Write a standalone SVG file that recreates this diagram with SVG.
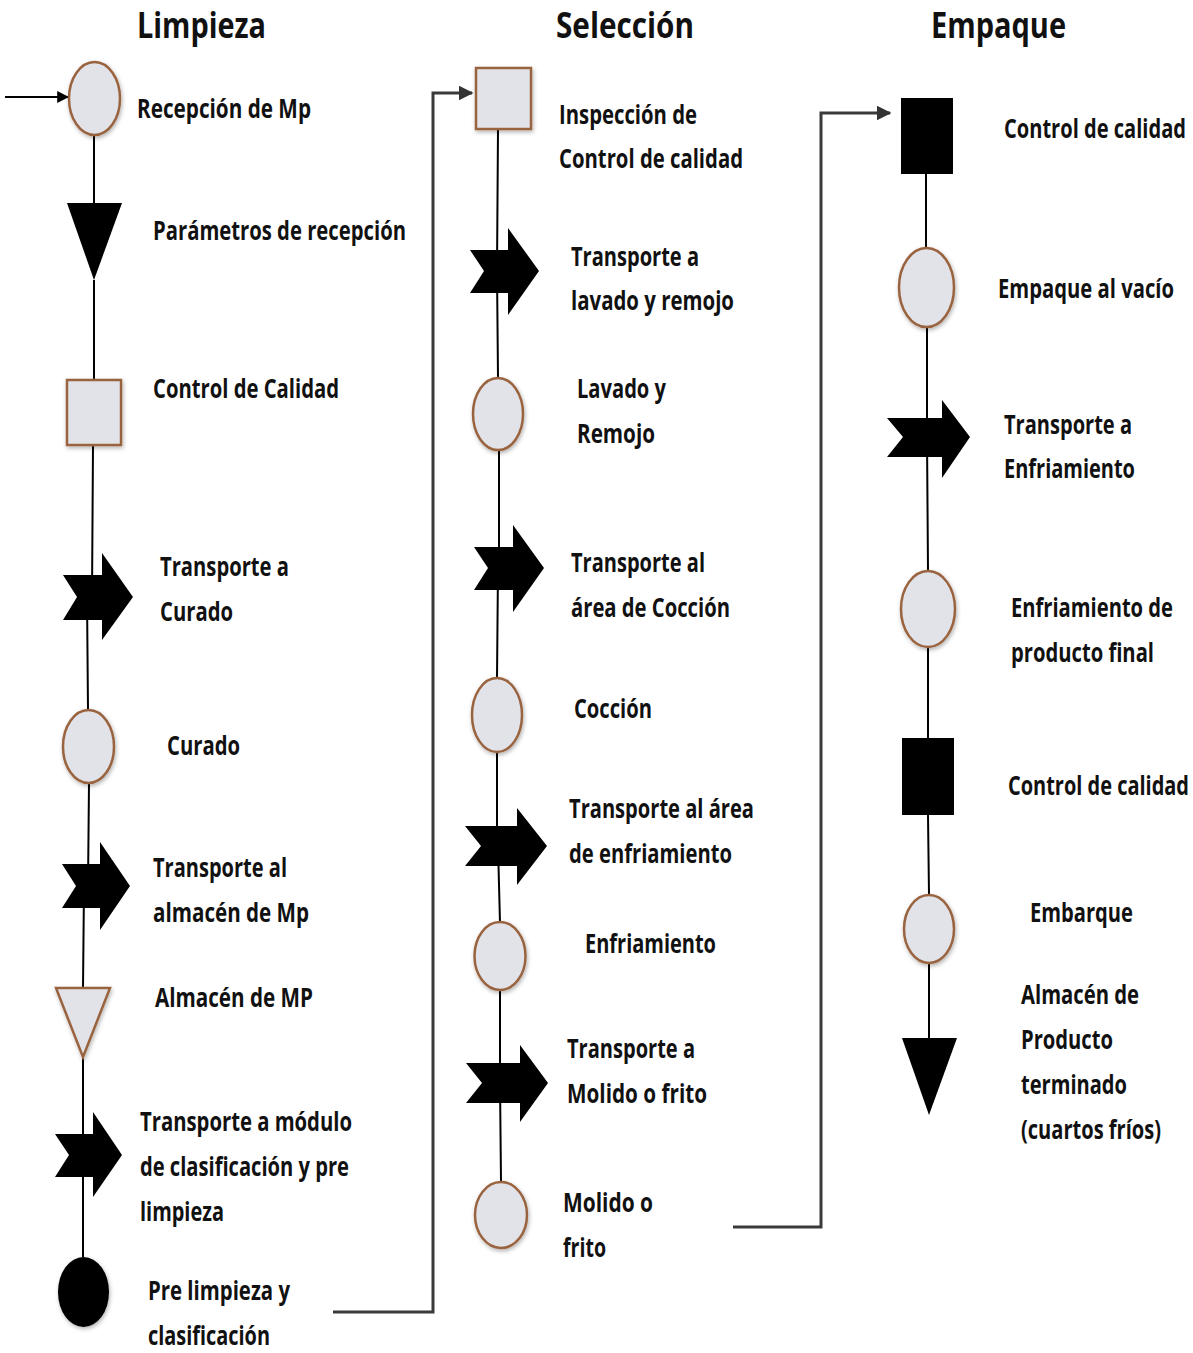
<svg xmlns="http://www.w3.org/2000/svg" width="1193" height="1353" viewBox="0 0 1193 1353">
<style>
.t{font-family:"Open Sans","Liberation Sans",sans-serif;font-weight:700;font-size:27px;fill:#111}
.h{font-family:"Open Sans","Liberation Sans",sans-serif;font-weight:700;font-size:35px;fill:#111}
.op{fill:#e2e3e9;stroke:#9a6440;stroke-width:2.5;filter:url(#sh)}
.blk{fill:#000;stroke:none}
.ln{stroke:#000;stroke-width:2;fill:none}
.lp{stroke:#3a3a3a;stroke-width:3;fill:none}
</style>
<defs>
<filter id="sh" x="-30%" y="-30%" width="160%" height="160%">
<feDropShadow dx="1" dy="2" stdDeviation="2" flood-color="#000" flood-opacity="0.3"/>
</filter>
<marker id="ah" viewBox="0 0 10 10" refX="9" refY="5" markerWidth="5" markerHeight="5" orient="auto" markerUnits="strokeWidth">
<path d="M0,0 L10,5 L0,10 z" fill="#333"/>
</marker>
<marker id="ah2" viewBox="0 0 10 10" refX="9" refY="5" markerWidth="6" markerHeight="6" orient="auto" markerUnits="strokeWidth">
<path d="M0,0 L10,5 L0,10 z" fill="#000"/>
</marker>
</defs>
<rect width="1193" height="1353" fill="#fff"/>

<g id="titles">
<text class="h" x="137" y="38" textLength="129" lengthAdjust="spacingAndGlyphs">Limpieza</text>
<text class="h" x="556" y="38" textLength="138" lengthAdjust="spacingAndGlyphs">Selección</text>
<text class="h" x="931" y="38" textLength="135" lengthAdjust="spacingAndGlyphs">Empaque</text>
</g>

<g id="connectors">
<line class="ln" x1="5" y1="97" x2="68" y2="97" marker-end="url(#ah2)"/>
<path class="ln" d="M94,135 V203 M94,280 V380 M93,445 L92,597 M87,597 L88,710 M89,783 L88,886 M84,886 L83,988 M83,1057 V1155 M83,1155 V1257"/>
<path class="ln" d="M498,129 L497,271 M497,271 L498,378 M499,450 V568 M498,568 L497,678 M497,752 V846 M498,846 L500,923 M500,990 V1083 M500,1083 L501,1182"/>
<path class="ln" d="M926,174 V248 M927,327 V437 M927,437 L928,571 M928,647 V738 M928,815 L929,895 M929,963 V1038"/>
<path class="lp" d="M333,1312 H433 V93 H472" marker-end="url(#ah)"/>
<path class="lp" d="M733,1227 H821 V113 H890" marker-end="url(#ah)"/>
</g>

<!-- Limpieza -->
<g id="n-recepcion">
<ellipse class="op" cx="94.5" cy="98.5" rx="25.5" ry="36.5"/>
<text class="t" x="137" y="118" textLength="174" lengthAdjust="spacingAndGlyphs">Recepción de Mp</text>
</g>
<g id="n-parametros">
<polygon class="blk" points="67,203 122,203 94,280"/>
<text class="t" x="153" y="240" textLength="253" lengthAdjust="spacingAndGlyphs">Parámetros de recepción</text>
</g>
<g id="n-control1">
<rect class="op" x="67" y="380" width="54" height="65"/>
<text class="t" x="153" y="398" textLength="186" lengthAdjust="spacingAndGlyphs">Control de Calidad</text>
</g>
<g id="n-trans-curado">
<path class="blk" d="M63,575 H102 V553 L133,597 L102,640 V620 H63 L77,597 Z"/>
<text class="t" x="160" y="576" textLength="129" lengthAdjust="spacingAndGlyphs">Transporte a</text>
<text class="t" x="160" y="621" textLength="73" lengthAdjust="spacingAndGlyphs">Curado</text>
</g>
<g id="n-curado">
<ellipse class="op" cx="88.5" cy="746.5" rx="25.5" ry="36.5"/>
<text class="t" x="167" y="755" textLength="73" lengthAdjust="spacingAndGlyphs">Curado</text>
</g>
<g id="n-trans-almacen">
<path class="blk" d="M62,864 H100 V842 L130,886 L100,930 V908 H62 L76,886 Z"/>
<text class="t" x="153" y="877" textLength="134" lengthAdjust="spacingAndGlyphs">Transporte al</text>
<text class="t" x="153" y="922" textLength="156" lengthAdjust="spacingAndGlyphs">almacén de Mp</text>
</g>
<g id="n-almacen">
<polygon class="op" points="56,988 110,988 83,1057"/>
<text class="t" x="155" y="1007" textLength="158" lengthAdjust="spacingAndGlyphs">Almacén de MP</text>
</g>
<g id="n-trans-modulo">
<path class="blk" d="M55,1134 H93 V1112 L122,1155 L93,1197 V1177 H55 L69,1155 Z"/>
<text class="t" x="140" y="1131" textLength="212" lengthAdjust="spacingAndGlyphs">Transporte a módulo</text>
<text class="t" x="140" y="1176" textLength="209" lengthAdjust="spacingAndGlyphs">de clasificación y pre</text>
<text class="t" x="140" y="1221" textLength="84" lengthAdjust="spacingAndGlyphs">limpieza</text>
</g>
<g id="n-prelimpieza">
<ellipse cx="83.5" cy="1292" rx="25.5" ry="35" fill="#000" filter="url(#sh)"/>
<text class="t" x="148" y="1300" textLength="142" lengthAdjust="spacingAndGlyphs">Pre limpieza y</text>
<text class="t" x="148" y="1345" textLength="122" lengthAdjust="spacingAndGlyphs">clasificación</text>
</g>

<!-- Selección -->
<g id="n-inspeccion">
<rect class="op" x="476" y="68" width="55" height="61"/>
<text class="t" x="559" y="124" textLength="138" lengthAdjust="spacingAndGlyphs">Inspección de</text>
<text class="t" x="559" y="168" textLength="184" lengthAdjust="spacingAndGlyphs">Control de calidad</text>
</g>
<g id="n-trans-lavado">
<path class="blk" d="M470,250 H508 V228 L539,271 L508,315 V293 H470 L484,271 Z"/>
<text class="t" x="571" y="266" textLength="128" lengthAdjust="spacingAndGlyphs">Transporte a</text>
<text class="t" x="571" y="310" textLength="163" lengthAdjust="spacingAndGlyphs">lavado y remojo</text>
</g>
<g id="n-lavado">
<ellipse class="op" cx="498" cy="414" rx="25" ry="36"/>
<text class="t" x="577" y="398" textLength="89" lengthAdjust="spacingAndGlyphs">Lavado y</text>
<text class="t" x="577" y="443" textLength="78" lengthAdjust="spacingAndGlyphs">Remojo</text>
</g>
<g id="n-trans-coccion">
<path class="blk" d="M474,547 H513 V525 L544,568 L513,612 V590 H474 L488,568 Z"/>
<text class="t" x="571" y="572" textLength="134" lengthAdjust="spacingAndGlyphs">Transporte al</text>
<text class="t" x="571" y="617" textLength="159" lengthAdjust="spacingAndGlyphs">área de Cocción</text>
</g>
<g id="n-coccion">
<ellipse class="op" cx="497" cy="715" rx="25" ry="37"/>
<text class="t" x="574" y="718" textLength="78" lengthAdjust="spacingAndGlyphs">Cocción</text>
</g>
<g id="n-trans-enfri">
<path class="blk" d="M465,826 H517 V808 L547,846 L517,885 V866 H465 L481,846 Z"/>
<text class="t" x="569" y="818" textLength="185" lengthAdjust="spacingAndGlyphs">Transporte al área</text>
<text class="t" x="569" y="863" textLength="163" lengthAdjust="spacingAndGlyphs">de enfriamiento</text>
</g>
<g id="n-enfriamiento">
<ellipse class="op" cx="500" cy="956" rx="25.5" ry="34"/>
<text class="t" x="585" y="953" textLength="131" lengthAdjust="spacingAndGlyphs">Enfriamiento</text>
</g>
<g id="n-trans-molido">
<path class="blk" d="M466,1063 H520 V1045 L548,1083 L520,1122 V1103 H466 L482,1083 Z"/>
<text class="t" x="567" y="1058" textLength="128" lengthAdjust="spacingAndGlyphs">Transporte a</text>
<text class="t" x="567" y="1103" textLength="140" lengthAdjust="spacingAndGlyphs">Molido o frito</text>
</g>
<g id="n-molido">
<ellipse class="op" cx="501" cy="1215" rx="26" ry="33"/>
<text class="t" x="563" y="1212" textLength="90" lengthAdjust="spacingAndGlyphs">Molido o</text>
<text class="t" x="563" y="1257" textLength="43" lengthAdjust="spacingAndGlyphs">frito</text>
</g>

<!-- Empaque -->
<g id="n-control2">
<rect class="blk" x="901" y="98" width="52" height="76"/>
<g transform="scale(0.75,1)"><text class="t" x="1338.67" y="138" textLength="242.67" lengthAdjust="spacingAndGlyphs">Control de calidad</text></g>
</g>
<g id="n-empaque">
<ellipse class="op" cx="926.5" cy="287.5" rx="27.5" ry="39.5"/>
<g transform="scale(0.75,1)"><text class="t" x="1330.67" y="298" textLength="234.67" lengthAdjust="spacingAndGlyphs">Empaque al vacío</text></g>
</g>
<g id="n-trans-enfri2">
<path class="blk" d="M887,418 H942 V400 L970,437 L942,478 V457 H887 L903,437 Z"/>
<g transform="scale(0.75,1)">
<text class="t" x="1338.67" y="434" textLength="170.67" lengthAdjust="spacingAndGlyphs">Transporte a</text>
<text class="t" x="1338.67" y="478" textLength="174.67" lengthAdjust="spacingAndGlyphs">Enfriamiento</text>
</g>
</g>
<g id="n-enfri-final">
<ellipse class="op" cx="928" cy="609" rx="27" ry="38"/>
<g transform="scale(0.75,1)">
<text class="t" x="1348" y="617" textLength="216" lengthAdjust="spacingAndGlyphs">Enfriamiento de</text>
<text class="t" x="1348" y="662" textLength="190.67" lengthAdjust="spacingAndGlyphs">producto final</text>
</g>
</g>
<g id="n-control3">
<rect class="blk" x="902" y="738" width="52" height="77"/>
<g transform="scale(0.75,1)"><text class="t" x="1344" y="795" textLength="241.33" lengthAdjust="spacingAndGlyphs">Control de calidad</text></g>
</g>
<g id="n-embarque">
<ellipse class="op" cx="929" cy="929" rx="25" ry="34"/>
<g transform="scale(0.75,1)"><text class="t" x="1373.33" y="922" textLength="137.33" lengthAdjust="spacingAndGlyphs">Embarque</text></g>
</g>
<g id="n-almacen-pt">
<polygon class="blk" points="902,1038 957,1038 929,1115"/>
<g transform="scale(0.75,1)">
<text class="t" x="1361.33" y="1004" textLength="157.33" lengthAdjust="spacingAndGlyphs">Almacén de</text>
<text class="t" x="1361.33" y="1049" textLength="122.67" lengthAdjust="spacingAndGlyphs">Producto</text>
<text class="t" x="1361.33" y="1094" textLength="141.33" lengthAdjust="spacingAndGlyphs">terminado</text>
<text class="t" x="1361.33" y="1139" textLength="186.67" lengthAdjust="spacingAndGlyphs">(cuartos fríos)</text>
</g>
</g>
</svg>
